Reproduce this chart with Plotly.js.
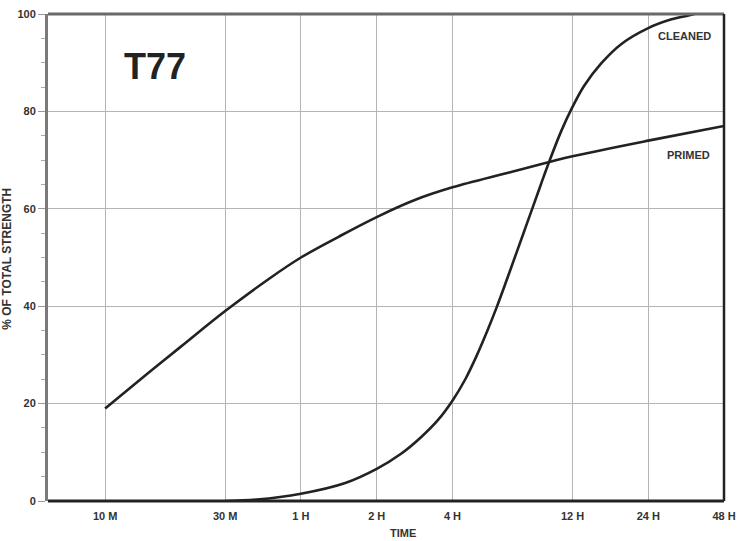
<!DOCTYPE html>
<html>
<head>
<meta charset="utf-8">
<script src="https://cdn.plot.ly/plotly-3.0.1.min.js"></script>
<style>html,body{margin:0;padding:0;background:#fff}#chart{width:742px;height:541px}</style>
</head>
<body>
<div id="chart"></div>
<script>
// Time in minutes
const tickMinutes = [10, 30, 60, 120, 240, 720, 1440, 2880];
const tickLabels = ["10 M", "30 M", "1 H", "2 H", "4 H", "12 H", "24 H", "48 H"];

const primedTime = [10, 15, 20, 30, 45, 60, 85, 120, 170, 240, 400, 582, 720, 1440, 2880];
const primedValue = [19, 26.5, 31.7, 39, 45.7, 50, 54.3, 58.3, 61.8, 64.4, 67.4, 69.6, 70.8, 74, 77];

const cleanedTime = [30, 40, 60, 90, 120, 150, 180, 210, 240, 270, 300, 330, 358, 390, 430, 465, 502, 540, 582, 650, 712, 800, 938, 1130, 1440, 1782, 2080, 2200];
const cleanedValue = [0, 0.3, 1.5, 3.7, 6.6, 9.7, 13.1, 16.6, 20.6, 25, 29.9, 34.9, 39.5, 44.7, 50.8, 55.7, 60.5, 65.1, 69.7, 76, 80.4, 85.2, 89.9, 93.9, 97.1, 98.9, 99.7, 100];

const lineStyle = {color: '#222', width: 2.6, shape: 'spline', smoothing: 1};

const traces = [
  {x: primedTime, y: primedValue, mode: 'lines', line: lineStyle, name: 'PRIMED', hoverinfo: 'skip'},
  {x: cleanedTime, y: cleanedValue, mode: 'lines', line: lineStyle, name: 'CLEANED', hoverinfo: 'skip'}
];

const fam = 'Liberation Sans, Arial, sans-serif';
const tickFont = {family: fam, size: 11, color: '#333', weight: 'bold'};

const layout = {
  width: 742, height: 541,
  margin: {l: 48, r: 18, t: 14, b: 40},
  paper_bgcolor: '#fff', plot_bgcolor: '#fff',
  showlegend: false,
  xaxis: {
    type: 'log',
    range: [0.773, Math.log10(2880)],
    tickvals: tickMinutes, ticktext: tickLabels,
    showgrid: true, gridcolor: '#b4b4b4', gridwidth: 1,
    ticks: '', showline: false, zeroline: false,
    tickfont: tickFont, ticklabelstandoff: 7
  },
  yaxis: {
    range: [0, 100],
    tickvals: [0, 20, 40, 60, 80, 100],
    showgrid: true, gridcolor: '#b4b4b4', gridwidth: 1,
    showline: true, linecolor: '#7a7a7a', linewidth: 3,
    ticks: 'outside', ticklen: 7, tickcolor: '#999', tickwidth: 1,
    minor: {dtick: 5, ticks: 'outside', ticklen: 4, tickcolor: '#aaa', showgrid: false},
    zeroline: false,
    tickfont: tickFont
  },
  shapes: [
    {type: 'line', xref: 'paper', yref: 'paper', x0: 0, x1: 1, y0: 1, y1: 1, line: {color: '#6a6a6a', width: 3}},
    {type: 'line', xref: 'paper', yref: 'paper', x0: 1, x1: 1, y0: 0, y1: 1, line: {color: '#222', width: 2.5}},
    {type: 'line', xref: 'paper', yref: 'paper', x0: 0, x1: 1, y0: 0, y1: 0, line: {color: '#222', width: 3}}
  ],
  annotations: [
    {text: 'T77', xref: 'paper', yref: 'paper', x: 0.158, y: 0.893, xanchor: 'center', yanchor: 'middle', showarrow: false,
     font: {family: fam, size: 36, color: '#222', weight: 'bold'}},
    {text: 'CLEANED', xref: 'paper', yref: 'paper', x: 0.941, y: 0.955, xanchor: 'center', yanchor: 'middle', showarrow: false,
     font: {family: fam, size: 11, color: '#333', weight: 'bold'}},
    {text: 'PRIMED', xref: 'paper', yref: 'paper', x: 0.948, y: 0.711, xanchor: 'center', yanchor: 'middle', showarrow: false,
     font: {family: fam, size: 11, color: '#333', weight: 'bold'}},
    {text: 'TIME', xref: 'paper', yref: 'paper', x: 0.525, y: -0.066, xanchor: 'center', yanchor: 'middle', showarrow: false,
     font: {family: fam, size: 11, color: '#333', weight: 'bold'}},
    {text: '% OF TOTAL STRENGTH', xref: 'paper', yref: 'paper', x: -0.061, y: 0.497, xanchor: 'center', yanchor: 'middle', showarrow: false, textangle: -90,
     font: {family: fam, size: 12, color: '#333', weight: 'bold'}}
  ]
};

Plotly.newPlot('chart', traces, layout, {displayModeBar: false, staticPlot: true});
</script>
</body>
</html>
